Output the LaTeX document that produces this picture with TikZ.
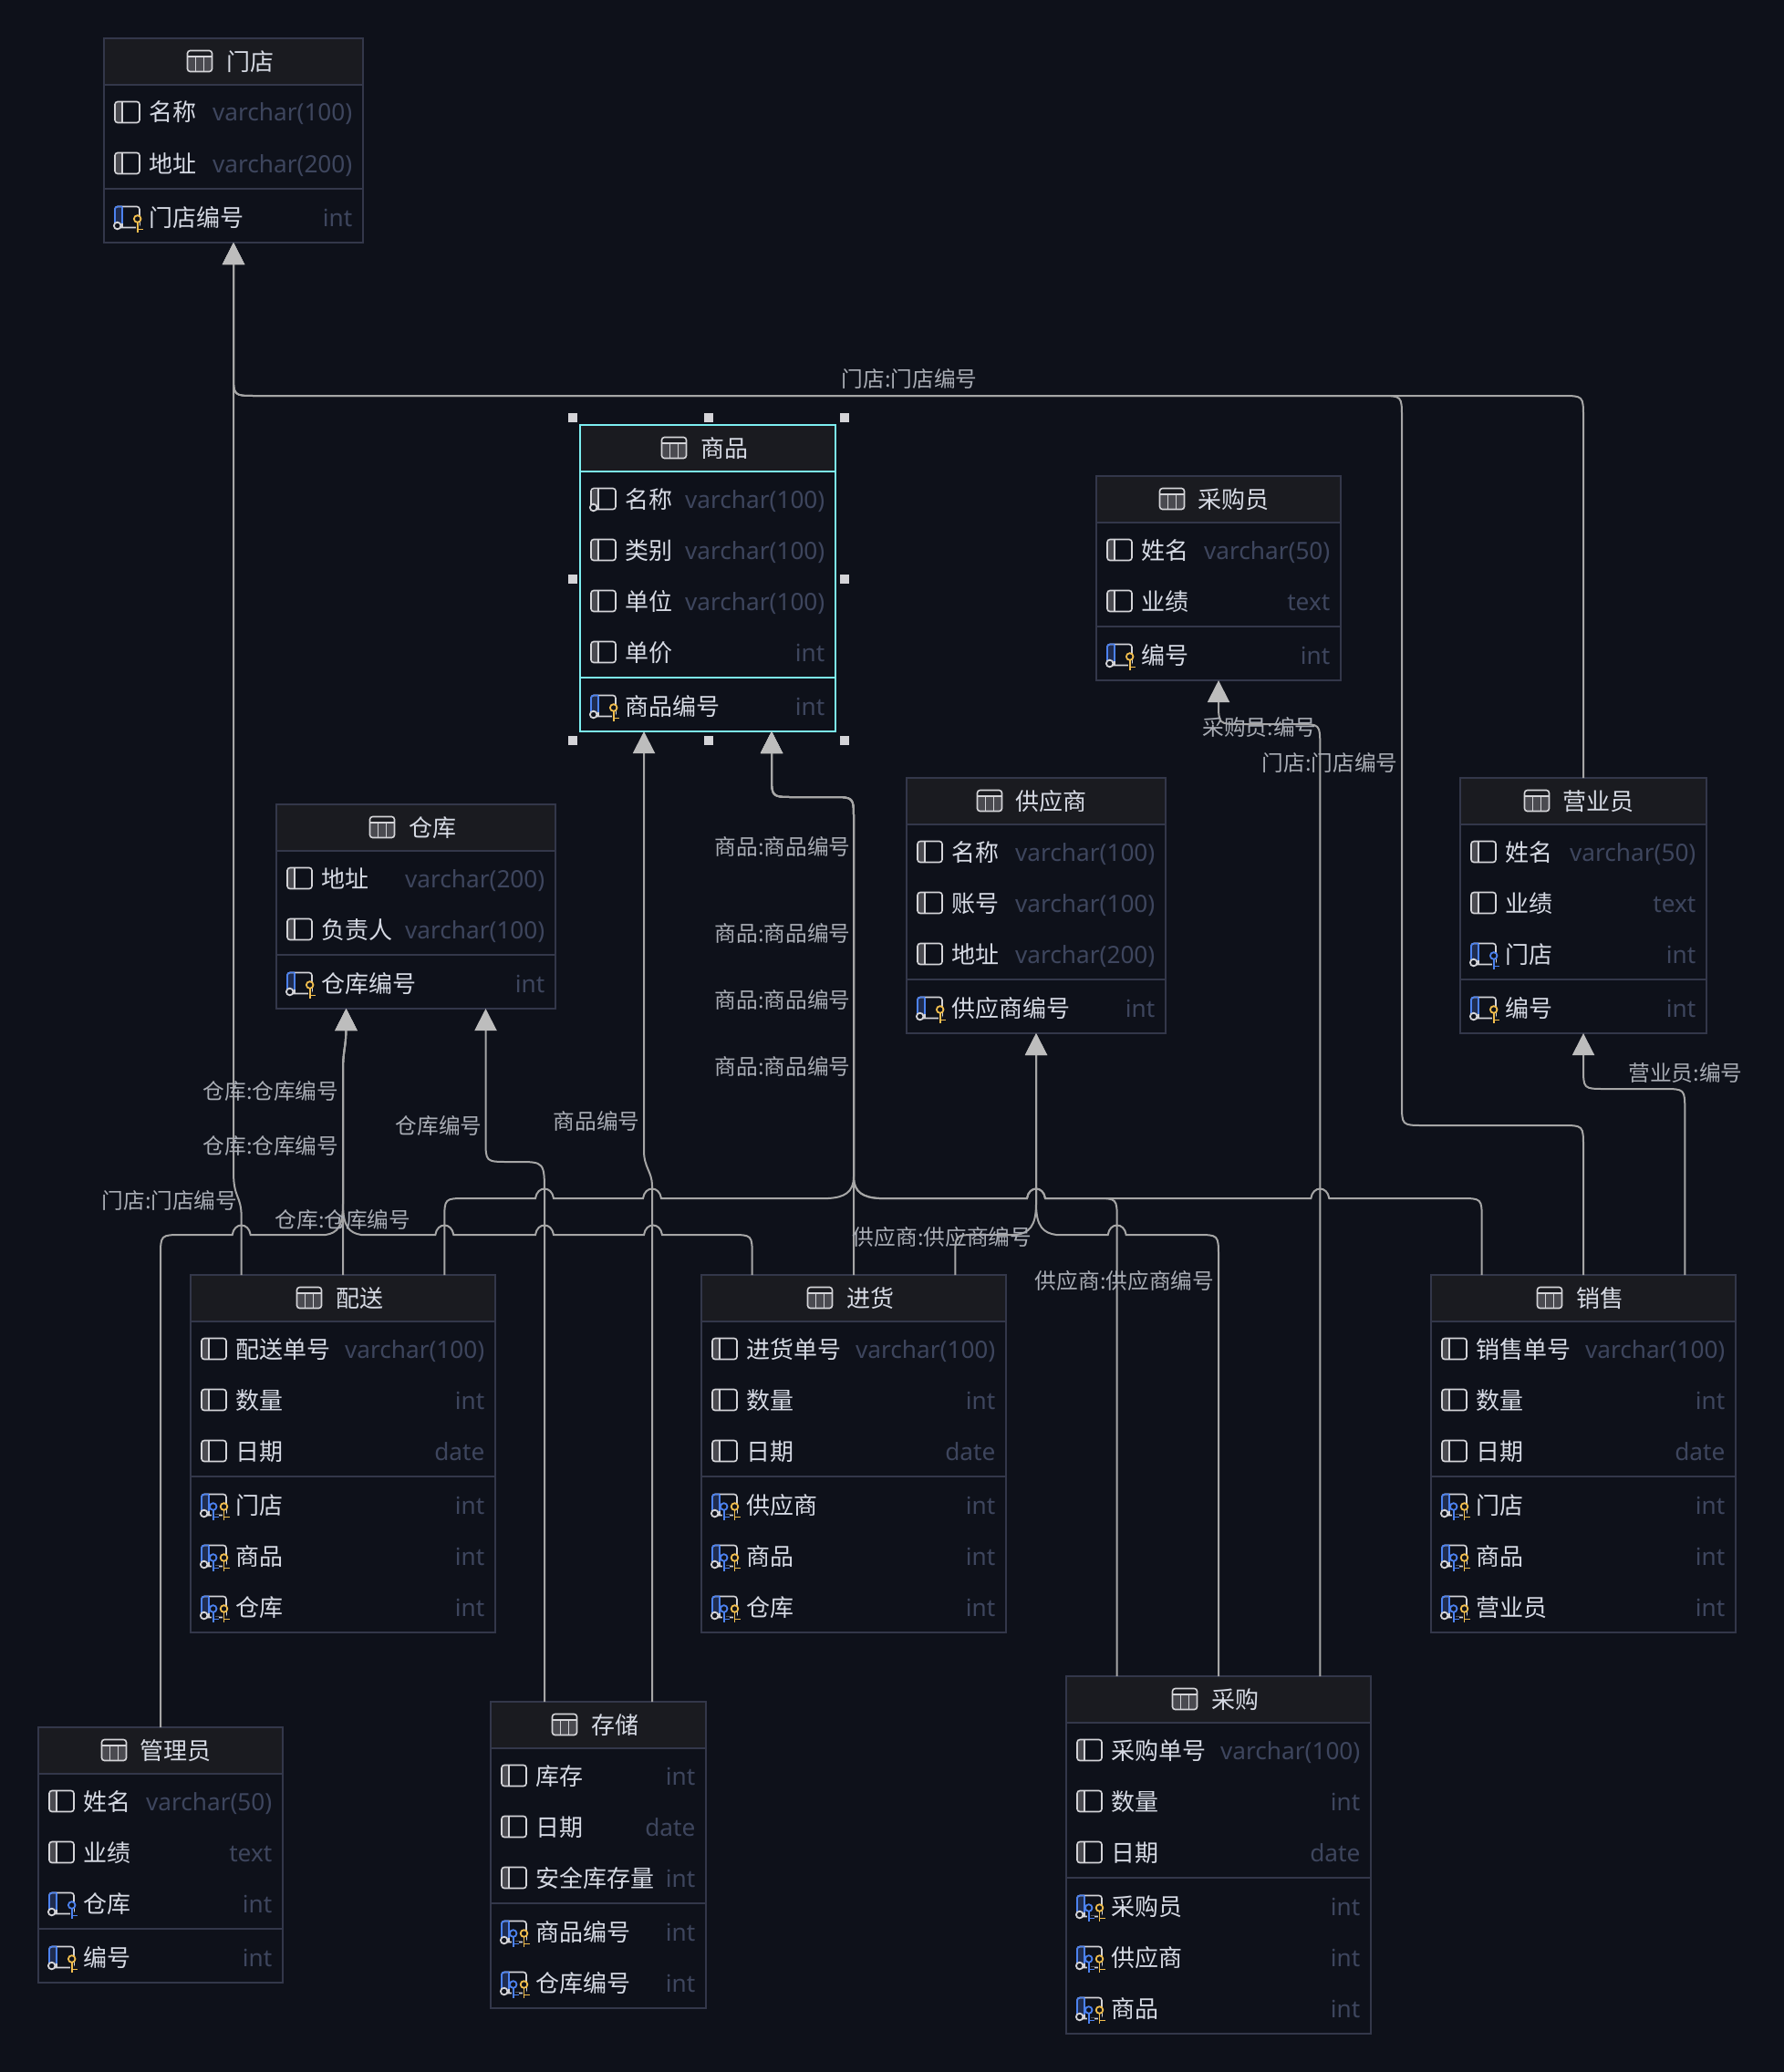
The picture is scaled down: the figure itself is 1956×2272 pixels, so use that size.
\documentclass[tikz,border=0pt]{standalone}
\usepackage{fontspec}
\usetikzlibrary{arrows.meta,calc}
\setmainfont{Noto Sans}
\newfontfamily\cjk{Noto Sans CJK SC}
\definecolor{bgc}{HTML}{0E111A}
\definecolor{hdr}{HTML}{1A1B20}
\definecolor{brd}{HTML}{33374A}
\definecolor{sel}{HTML}{7CEEF0}
\definecolor{txt}{HTML}{D6DAE4}
\definecolor{typ}{HTML}{3E465E}
\definecolor{lnk}{HTML}{A6A6A6}
\definecolor{tip}{HTML}{BDBDBD}
\definecolor{lab}{HTML}{A9ADB5}
\definecolor{ico}{HTML}{D4D4D8}
\definecolor{icf}{HTML}{4A4A50}
\definecolor{blu}{HTML}{4C82F0}
\definecolor{blf}{HTML}{1F2C4F}
\definecolor{yel}{HTML}{F2BE4E}
\newcount\rowc
\newcommand{\fr}{\fontsize{26}{30}\selectfont}
\newcommand{\ft}{\fontsize{26.2}{30}\selectfont}
\newcommand{\fl}{\fontsize{23.7}{28}\selectfont}
\tikzset{
  x=1pt,y=-1pt,
  tbox/.style={draw=brd,line width=2pt,fill=bgc,inner sep=0pt,outer sep=0pt,anchor=north west},
  tname/.style={inner sep=0pt,text=txt,anchor=base west,font=\cjk\fr},
  ttype/.style={inner sep=0pt,text=typ,anchor=base east,font=\ft},
  ttitle/.style={inner sep=0pt,text=txt,anchor=base,font=\cjk\fr},
  elabel/.style={inner sep=0pt,text=lab,font=\cjk\fl,yshift=-1pt},
  conn/.style={draw=lnk,line width=2pt},
  arrowed/.style={conn,-{Triangle[width=24pt,length=24pt,fill=tip,color=tip]}},
  bmp/.style 2 args={insert path={-- ({#1-10},#2) .. controls ({#1-8},{#2-14}) and ({#1+8},{#2-14}) .. ({#1+10},#2)}},
  bmpl/.style 2 args={insert path={-- ({#1+10},#2) .. controls ({#1+8},{#2-14}) and ({#1-8},{#2-14}) .. ({#1-10},#2)}},
}
% table: id, x0, x1, y0, height, icon dx, title dx, title, border colour
\newcommand{\tb}[9]{%
  \def\xa{#2}\def\xb{#3}\pgfmathsetmacro\cury{#4+51}%
  \pgfmathsetmacro\tbw{#3-#2}%
  \node[tbox,draw=#9,minimum width=\tbw pt,minimum height=#5pt] (#1) at (#2,#4) {};
  \fill[hdr] ({#2+1},{#4+1}) rectangle ({#3-1},{#4+50});
  \draw[#9,line width=2pt] (#2,{#4+51}) -- (#3,{#4+51});
  \pgfmathsetmacro\tbc{(#2+#3)/2}%
  \pgfmathsetmacro\tbi{\tbc+#6}\pgfmathsetmacro\tby{#4+25}%
  \begin{scope}[shift={(\tbi,\tby)}]
    \fill[icf,rounded corners=3pt] (-13.5,-5) rectangle (13.5,11.5);
    \draw[ico,line width=1.6pt,rounded corners=3pt] (-13.5,-11.5) rectangle (13.5,11.5);
    \draw[ico,line width=1.6pt] (-13.5,-5) -- (13.5,-5) (-4.5,-5) -- (-4.5,11.5) (4.5,-5) -- (4.5,11.5);
  \end{scope}
  \node[ttitle] (#1t) at ({\tbc+#7},{#4+35.5}) {#8};
  \def\sepc{#9}%
}
\newcommand{\ykey}[3]{%
  \draw[bgc,line width=4pt] (#1,{#2+4}) -- (#1,{#2+14}) ({#1+1},{#2+11}) -- ({#1+6},{#2+11});
  \filldraw[draw=#3,fill=bgc,line width=1.8pt] (#1,#2) circle[radius=3.8pt];
  \draw[#3,line width=1.8pt] (#1,{#2+4}) -- (#1,{#2+14.5}) ({#1},{#2+11.5}) -- ({#1+6},{#2+11.5});
}
% row: kind p n k f b, name, type
\newcommand{\rw}[3]{%
  \global\advance\rowc by 1
  \pgfmathsetmacro\ryc{\cury+30}%
  \pgfmathsetmacro\rlx{\xa+12}%
  \pgfmathsetmacro\rnx{\xa+49.5}%
  \pgfmathsetmacro\rtx{\xb-11.5}%
  \begin{scope}[shift={(\rlx,\ryc)}]
    \if#1p
      \fill[icf,rounded corners=3pt] (8,-11.5) -- (0,-11.5) -- (0,11.5) -- (8,11.5) -- cycle;
      \draw[ico,line width=1.6pt,rounded corners=3pt] (0,-11.5) rectangle (27,11.5);
      \draw[ico,line width=1.6pt] (8,-11.5) -- (8,11.5);
    \else
      \draw[ico,line width=1.6pt,rounded corners=3pt] (0,-11.5) rectangle (27,11.5);
      \if#1n
        \fill[icf] (1,-10.5) rectangle (8,8);
        \draw[ico,line width=1.6pt] (8,-11.5) -- (8,11.5);
      \else
        \fill[blf] (1,-10.5) rectangle (8,8);
        \draw[ico,line width=1.6pt] (8,-11.5) -- (8,11.5);
        \draw[blu,line width=1.8pt,rounded corners=3pt] (8,-11.5) -- (0,-11.5) -- (0,6);
        \draw[blu,line width=1.8pt] (8,-11.5) -- (8,7);
      \fi
      \filldraw[draw=ico,fill=bgc,line width=1.8pt] (2.7,9.5) circle[radius=3.8pt];
      \if#1k \ykey{24.7}{2}{yel}\fi
      \if#1f \ykey{24.7}{2}{blu}\fi
      \if#1b \ykey{12.7}{2}{blu}\ykey{24.5}{2}{yel}\fi
    \fi
  \end{scope}
  \node[tname] (rn\the\rowc) at (\rnx,{\ryc+10}) {#2};
  \node[ttype] (rt\the\rowc) at (\rtx,{\ryc+10}) {#3};
  \pgfmathsetmacro\cury{\cury+56}%
}
\newcommand{\rsep}{%
  \pgfmathsetmacro\rsy{\cury+2}%
  \draw[\sepc,line width=2pt] (\xa,\rsy) -- (\xb,\rsy);
  \pgfmathsetmacro\cury{\cury+3}%
}
\begin{document}
\begin{tikzpicture}
\useasboundingbox (0,0) rectangle (1956,2272);
\fill[bgc] (0,0) rectangle (1956,2272);

% ---------- tables
\tb{tMD}{114}{398}{42}{224}{-37}{18}{门店}{brd}
\rw{p}{名称}{varchar(100)}\rw{p}{地址}{varchar(200)}\rsep\rw{k}{门店编号}{int}

\tb{tSP}{636}{916}{466}{336}{-37}{18}{商品}{sel}
\rw{n}{名称}{varchar(100)}\rw{p}{类别}{varchar(100)}\rw{p}{单位}{varchar(100)}\rw{p}{单价}{int}\rsep\rw{k}{商品编号}{int}

\tb{tCY}{1202}{1470}{522}{224}{-51}{16}{采购员}{brd}
\rw{p}{姓名}{varchar(50)}\rw{p}{业绩}{text}\rsep\rw{k}{编号}{int}

\tb{tCK}{303}{609}{882}{224}{-37}{18}{仓库}{brd}
\rw{p}{地址}{varchar(200)}\rw{p}{负责人}{varchar(100)}\rsep\rw{k}{仓库编号}{int}

\tb{tGY}{994}{1278}{853}{280}{-51}{16}{供应商}{brd}
\rw{p}{名称}{varchar(100)}\rw{p}{账号}{varchar(100)}\rw{p}{地址}{varchar(200)}\rsep\rw{k}{供应商编号}{int}

\tb{tYY}{1601}{1871}{853}{280}{-51}{16}{营业员}{brd}
\rw{p}{姓名}{varchar(50)}\rw{p}{业绩}{text}\rw{f}{门店}{int}\rsep\rw{k}{编号}{int}

\tb{tPS}{209}{543}{1398}{392}{-37}{18}{配送}{brd}
\rw{p}{配送单号}{varchar(100)}\rw{p}{数量}{int}\rw{p}{日期}{date}\rsep\rw{b}{门店}{int}\rw{b}{商品}{int}\rw{b}{仓库}{int}

\tb{tJH}{769}{1103}{1398}{392}{-37}{18}{进货}{brd}
\rw{p}{进货单号}{varchar(100)}\rw{p}{数量}{int}\rw{p}{日期}{date}\rsep\rw{b}{供应商}{int}\rw{b}{商品}{int}\rw{b}{仓库}{int}

\tb{tXS}{1569}{1903}{1398}{392}{-37}{18}{销售}{brd}
\rw{p}{销售单号}{varchar(100)}\rw{p}{数量}{int}\rw{p}{日期}{date}\rsep\rw{b}{门店}{int}\rw{b}{商品}{int}\rw{b}{营业员}{int}

\tb{tCG}{1169}{1503}{1838}{392}{-37}{18}{采购}{brd}
\rw{p}{采购单号}{varchar(100)}\rw{p}{数量}{int}\rw{p}{日期}{date}\rsep\rw{b}{采购员}{int}\rw{b}{供应商}{int}\rw{b}{商品}{int}

\tb{tGL}{42}{310}{1894}{280}{-51}{16}{管理员}{brd}
\rw{p}{姓名}{varchar(50)}\rw{p}{业绩}{text}\rw{f}{仓库}{int}\rsep\rw{k}{编号}{int}

\tb{tCC}{538}{774}{1866}{336}{-37}{18}{存储}{brd}
\rw{p}{库存}{int}\rw{p}{日期}{date}\rw{p}{安全库存量}{int}\rsep\rw{b}{商品编号}{int}\rw{b}{仓库编号}{int}

% ---------- selection handles
\foreach \hx in {628,777,926}{\foreach \hy in {458,812}{\fill[ico] ({\hx-5},{\hy-5}) rectangle ({\hx+5},{\hy+5});}}
\foreach \hx in {628,926}{\fill[ico] ({\hx-5},630) rectangle ({\hx+5},640);}

% ---------- ports
\coordinate (sPS1) at ($(tPS.north west)!.1667!(tPS.north east)$);
\coordinate (sPS2) at ($(tPS.north west)!.5!(tPS.north east)$);
\coordinate (sPS3) at ($(tPS.north west)!.8333!(tPS.north east)$);
\coordinate (sJH1) at ($(tJH.north west)!.1667!(tJH.north east)$);
\coordinate (sJH2) at ($(tJH.north west)!.5!(tJH.north east)$);
\coordinate (sJH3) at ($(tJH.north west)!.8333!(tJH.north east)$);
\coordinate (sXS1) at ($(tXS.north west)!.1667!(tXS.north east)$);
\coordinate (sXS2) at ($(tXS.north west)!.5!(tXS.north east)$);
\coordinate (sXS3) at ($(tXS.north west)!.8333!(tXS.north east)$);
\coordinate (sCG1) at ($(tCG.north west)!.1667!(tCG.north east)$);
\coordinate (sCG2) at ($(tCG.north west)!.5!(tCG.north east)$);
\coordinate (sCG3) at ($(tCG.north west)!.8333!(tCG.north east)$);
\coordinate (sCC1) at ($(tCC.north west)!.25!(tCC.north east)$);
\coordinate (sCC3) at ($(tCC.north west)!.75!(tCC.north east)$);
\coordinate (dSP1) at ($(tSP.south west)!.25!(tSP.south east)$);
\coordinate (dSP3) at ($(tSP.south west)!.75!(tSP.south east)$);
\coordinate (dCK1) at ($(tCK.south west)!.25!(tCK.south east)$);
\coordinate (dCK3) at ($(tCK.south west)!.75!(tCK.south east)$);

% ---------- connectors to 门店
\draw[arrowed] (sPS1) -- (264.7,1335) .. controls (264.7,1310) and (256,1315) .. (256,1285) -- (tMD.south);
\draw[arrowed] (tYY.north) -- (1736,458) .. controls (1736,434) .. (1712,434) -- (280,434) .. controls (256,434) .. (256,410) -- (tMD.south);
\draw[arrowed] (sXS2) -- (1736,1258) .. controls (1736,1234) .. (1712,1234) -- (1561,1234) .. controls (1537,1234) .. (1537,1210) -- (1537,458) .. controls (1537,434) .. (1513,434) -- (280,434) .. controls (256,434) .. (256,410) -- (tMD.south);

% ---------- connectors to 仓库
\draw[arrowed] (sPS2) -- (376,1175) .. controls (376,1150) and (379.5,1150) .. (379.5,1125) -- (dCK1);
\path[arrowed] (tGL.north) -- (176,1378) .. controls (176,1354) .. (200,1354) [bmp={264.7}{1354}] -- (357,1354) .. controls (370,1352) and (376,1345) .. (376,1320) -- (376,1175) .. controls (376,1150) and (379.5,1150) .. (379.5,1125) -- (dCK1);
\path[arrowed] (sJH1) -- (824.7,1378) .. controls (824.7,1354) .. (801,1354) [bmpl={716}{1354}] [bmpl={597}{1354}] [bmpl={487.3}{1354}] -- (396,1354) .. controls (383,1352) and (376,1345) .. (376,1320) -- (376,1175) .. controls (376,1150) and (379.5,1150) .. (379.5,1125) -- (dCK1);
\draw[arrowed] (sCC1) -- (597,1310) .. controls (597,1274) .. (567,1274) -- (558,1274) .. controls (532.5,1274) .. (532.5,1250) -- (dCK3);

% ---------- connectors to 商品
\draw[arrowed] (sCC3) -- (715,1300) .. controls (715,1285) and (706,1280) .. (706,1262) -- (dSP1);
\draw[arrowed] (sJH2) -- (936,898) .. controls (936,874) .. (912,874) -- (870,874) .. controls (846,874) .. (846,850) -- (dSP3);
\path[arrowed] (sPS3) -- (487.3,1338) .. controls (487.3,1314) .. (511,1314) [bmp={597}{1314}] [bmp={715}{1314}] -- (908,1314) .. controls (925,1313) and (936,1308) .. (936,1290) -- (936,898) .. controls (936,874) .. (912,874) -- (870,874) .. controls (846,874) .. (846,850) -- (dSP3);
\path[arrowed] (sXS1) -- (1624.7,1338) .. controls (1624.7,1314) .. (1601,1314) [bmpl={1447.3}{1314}] [bmpl={1136}{1314}] -- (964,1314) .. controls (947,1313) and (936,1308) .. (936,1290) -- (936,898) .. controls (936,874) .. (912,874) -- (870,874) .. controls (846,874) .. (846,850) -- (dSP3);
\path[arrowed] (sCG1) -- (1224.7,1338) .. controls (1224.7,1314) .. (1201,1314) [bmpl={1136}{1314}] -- (964,1314) .. controls (947,1313) and (936,1308) .. (936,1290) -- (936,898) .. controls (936,874) .. (912,874) -- (870,874) .. controls (846,874) .. (846,850) -- (dSP3);

% ---------- connectors to 供应商
\draw[arrowed] (sJH3) -- (1047.3,1378) .. controls (1047.3,1354) .. (1071,1354) -- (1114,1354) .. controls (1128,1352) and (1136,1345) .. (1136,1320) -- (tGY.south);
\path[arrowed] (sCG2) -- (1336,1378) .. controls (1336,1354) .. (1312,1354) [bmpl={1224.7}{1354}] -- (1158,1354) .. controls (1144,1352) and (1136,1345) .. (1136,1320) -- (tGY.south);

% ---------- connectors to 采购员 and 营业员
\draw[arrowed] (sCG3) -- (1447.3,818) .. controls (1447.3,794) .. (1423,794) -- (1360,794) .. controls (1336,794) .. (1336,770) -- (tCY.south);
\draw[arrowed] (sXS3) -- (1847.3,1218) .. controls (1847.3,1194) .. (1823,1194) -- (1760,1194) .. controls (1736,1194) .. (1736,1170) -- (tYY.south);

% ---------- connector labels
\node[elabel] (l1) at (997,414) {门店:门店编号};
\node[elabel] (l2) at (1381,796) {采购员:编号};
\node[elabel] (l3) at (1458,835) {门店:门店编号};
\node[elabel] (l4) at (858,927) {商品:商品编号};
\node[elabel] (l5) at (858,1022) {商品:商品编号};
\node[elabel] (l6) at (858,1095) {商品:商品编号};
\node[elabel] (l7) at (858,1168) {商品:商品编号};
\node[elabel] (l8) at (1848,1175) {营业员:编号};
\node[elabel] (l9) at (297,1195) {仓库:仓库编号};
\node[elabel] (l10) at (297,1255) {仓库:仓库编号};
\node[elabel] (l11) at (186,1315) {门店:门店编号};
\node[elabel] (l12) at (376,1336) {仓库:仓库编号};
\node[elabel] (l13) at (481,1233) {仓库编号};
\node[elabel] (l14) at (654,1228) {商品编号};
\node[elabel] (l15) at (1033,1355) {供应商:供应商编号};
\node[elabel] (l16) at (1233,1403) {供应商:供应商编号};
\end{tikzpicture}
\end{document}
